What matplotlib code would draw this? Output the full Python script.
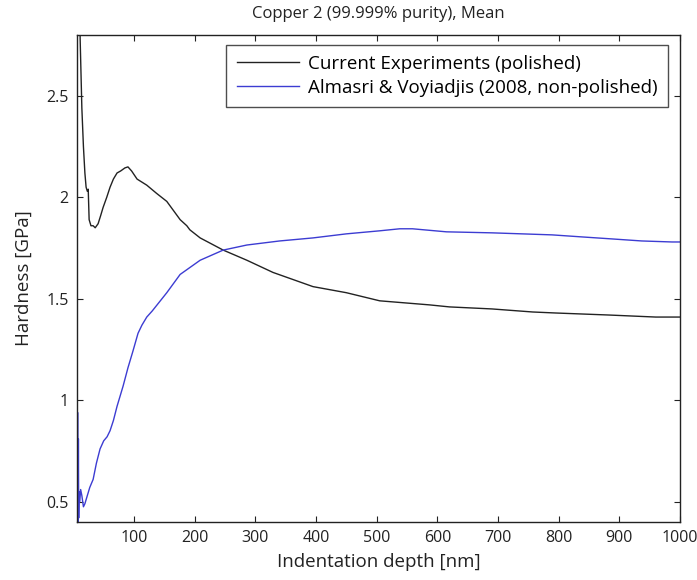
import numpy as np
import matplotlib
matplotlib.use("Agg")
import matplotlib.pyplot as plt

plt.rcParams['font.family'] = ['Open Sans', 'DejaVu Sans']

# === 数据 ===
depth_exp = [10.5, 11.2, 14, 16.6, 19, 21, 23, 24.5, 26, 29, 32.6, 36, 40.8, 45, 49, 55,
             60.5, 66, 72, 78, 85, 90, 96, 105, 121, 137, 154, 176, 187, 192, 209,
             247, 286, 329, 395, 450, 505, 587, 620, 690, 757, 795, 883, 960, 1000]
hard_exp = [3.0, 2.78, 2.44, 2.25, 2.12, 2.05, 2.03, 2.04, 1.89, 1.86, 1.86, 1.85, 1.87, 1.91, 1.95, 2.00,
            2.05, 2.09, 2.12, 2.13, 2.145, 2.15, 2.13, 2.09, 2.06, 2.02, 1.98, 1.89, 1.86, 1.84, 1.80,
            1.74, 1.69, 1.63, 1.56, 1.53, 1.49, 1.47, 1.46, 1.45, 1.435, 1.43, 1.42, 1.41, 1.41]

depth_lit = [6.6, 7.0, 7.4, 7.9, 8.3, 8.8, 9.4, 10.5, 12, 14, 16.6, 19, 22, 27, 32.6, 38,
             44, 50, 55.6, 60.5, 66, 72, 77, 82, 90, 98, 106.6, 113, 121, 130, 138, 154,
             176, 209, 247, 286, 340, 395, 450, 505, 538, 559, 615, 690, 789, 838, 888,
             937, 987, 1000]
hard_lit = [0.40, 0.94, 0.40, 0.40, 0.81, 0.42, 0.55, 0.50, 0.56, 0.53, 0.475, 0.49, 0.52, 0.57, 0.61, 0.69,
            0.76, 0.80, 0.82, 0.85, 0.90, 0.97, 1.02, 1.07, 1.16, 1.24, 1.33, 1.37, 1.41, 1.44, 1.47, 1.53,
            1.62, 1.69, 1.74, 1.765, 1.785, 1.80, 1.82, 1.835, 1.845, 1.845, 1.83, 1.825, 1.815, 1.805, 1.795,
            1.785, 1.78, 1.78]

x_ticks = [100, 200, 300, 400, 500, 600, 700, 800, 900, 1000]
y_ticks = [0.5, 1, 1.5, 2, 2.5]

# === 绘图 ===
fig = plt.figure(figsize=(6.97, 5.8), dpi=100)
ax = fig.add_axes([77 / 697, 1 - 522 / 580, 603 / 697, 487 / 580])

ax.plot(depth_exp, hard_exp, color='#222222', lw=1.0, label='Current Experiments (polished)')
ax.plot(depth_lit, hard_lit, color='#3c3cd2', lw=1.0, label='Almasri & Voyiadjis (2008, non-polished)')

ax.set_xlim(6, 1000)
ax.set_ylim(0.4, 2.8)
ax.set_xticks(x_ticks)
ax.set_yticks(y_ticks)
ax.set_yticklabels(['0.5', '1', '1.5', '2', '2.5'])
ax.tick_params(direction='in', top=True, right=True, length=4, width=0.8,
               labelsize=11.5, colors='#222222', pad=6)
for s in ax.spines.values():
    s.set_linewidth(1.0)
    s.set_color('#222222')

ax.set_xlabel('Indentation depth [nm]', fontsize=13.5, color='#222222', labelpad=5)
ax.set_ylabel('Hardness [GPa]', fontsize=13.5, color='#222222', labelpad=10)
ax.set_title('Copper 2 (99.999% purity), Mean', fontsize=12, color='#222222', pad=12)

leg = ax.legend(loc='upper right', bbox_to_anchor=(0.98, 0.98), fontsize=13.5,
                frameon=True, fancybox=False, edgecolor='#222222', handlelength=3.3,
                handletextpad=0.5, borderpad=0.55, labelspacing=0.3, borderaxespad=0)
leg.get_frame().set_linewidth(1.0)

fig.savefig('out.png', dpi=100)
